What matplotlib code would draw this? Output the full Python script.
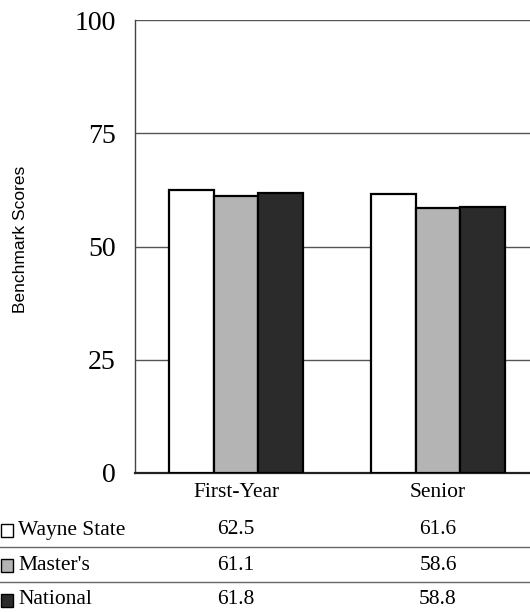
import matplotlib.pyplot as plt
import matplotlib.transforms as mtransforms
from matplotlib.patches import Rectangle
from matplotlib.lines import Line2D
import numpy as np

# ============================================================
# Data
# ============================================================

categories = ["First-Year", "Senior"]
series_names = ["Wayne State", "Master's", "National"]
wayne_state = [62.5, 61.6]
masters = [61.1, 58.6]
national = [61.8, 58.8]
y_ticks = [0, 25, 50, 75, 100]

series_values = [wayne_state, masters, national]
series_colors = ["#ffffff", "#b4b4b4", "#2b2b2b"]

plt.rcParams["font.family"] = ["Liberation Serif", "DejaVu Serif"]

# ============================================================
# Figure / axes
# ============================================================

W, H = 530, 612
fig = plt.figure(figsize=(W / 100, H / 100), dpi=100)

ax_left, ax_right = 135, 539
ax_top, ax_bottom = 20, 473
ax = fig.add_axes([ax_left / W, 1 - ax_bottom / H,
                   (ax_right - ax_left) / W, (ax_bottom - ax_top) / H])

x = np.arange(len(categories))
bar_w = 0.222
offsets = [-bar_w, 0, bar_w]

for vals, off, col in zip(series_values, offsets, series_colors):
    ax.bar(x + off, vals, width=bar_w, color=col, edgecolor="black",
           linewidth=1.6, zorder=3)

ax.set_xlim(-0.5, 1.5)
ax.set_ylim(0, 100)
ax.set_yticks(y_ticks)
ax.set_yticklabels([str(t) for t in y_ticks], fontsize=20)
ax.set_xticks(x)
ax.set_xticklabels(categories, fontsize=15.5)
ax.tick_params(axis="y", length=0, pad=14)
ax.tick_params(axis="x", length=0, pad=7)

ax.yaxis.grid(True, color="#555555", linewidth=1.0, zorder=0)
ax.set_axisbelow(True)
for side in ["top", "right"]:
    ax.spines[side].set_visible(False)
ax.spines["left"].set_color("#444444")
ax.spines["left"].set_linewidth(1.0)
ax.spines["bottom"].set_color("#222222")
ax.spines["bottom"].set_linewidth(1.6)

fig.text(21 / W, 1 - 239 / H, "Benchmark Scores", rotation=90,
         ha="center", va="center", fontsize=12.5,
         family=["Liberation Sans", "DejaVu Sans"])

# ============================================================
# Data table below the chart
# ============================================================

row_y = [530, 565, 600]
line_y = [547, 582]

blend = mtransforms.blended_transform_factory(ax.transData, fig.transFigure)

for name, vals, col, ry in zip(series_names, series_values, series_colors, row_y):
    fig.patches.append(Rectangle((1 / W, 1 - (ry + 7) / H), 12 / W, 13 / H,
                                 transform=fig.transFigure, facecolor=col,
                                 edgecolor="black", linewidth=1.0))
    fig.text(18 / W, 1 - ry / H, name, ha="left", va="center", fontsize=15.5)
    for xi, v in zip(x, vals):
        fig.text(xi, 1 - ry / H, f"{v:.1f}", transform=blend,
                 ha="center", va="center", fontsize=15.5)

for ly in line_y:
    fig.add_artist(Line2D([0, 1], [1 - ly / H, 1 - ly / H],
                          transform=fig.transFigure, color="#666666",
                          linewidth=1.0))

fig.savefig("out.png", dpi=100)
